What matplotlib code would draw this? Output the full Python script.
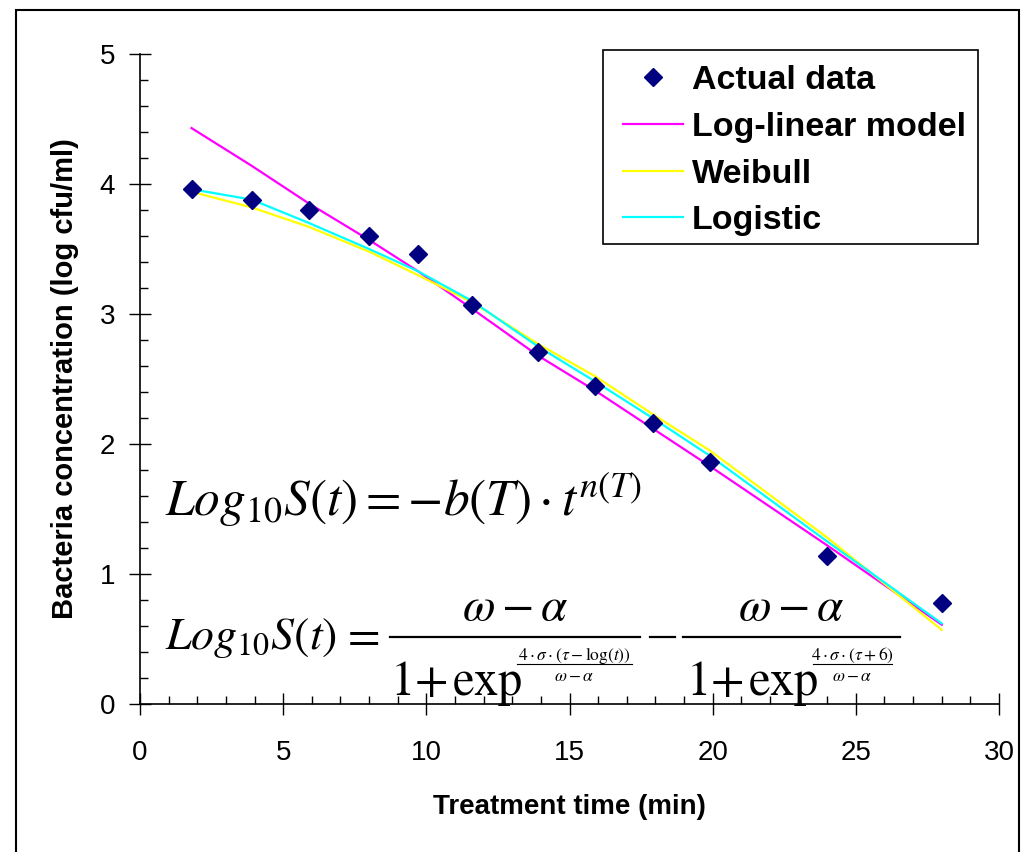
import matplotlib
matplotlib.use("Agg")
import matplotlib.pyplot as plt
from matplotlib.lines import Line2D
from matplotlib.patches import Rectangle
from matplotlib.ticker import MultipleLocator

plt.rcParams['font.family'] = ['Liberation Sans', 'DejaVu Sans']
plt.rcParams['mathtext.fontset'] = 'stix'

# treatment time (min) and measured / fitted log counts
time_min = [1.8, 3.9, 5.9, 8.0, 9.7, 11.6, 13.9, 15.9, 17.9, 19.9, 24.0, 28.0]
actual = [3.96, 3.88, 3.80, 3.60, 3.46, 3.07, 2.71, 2.45, 2.16, 1.86, 1.14, 0.78]
log_linear = [4.43, 4.14, 3.85, 3.57, 3.33, 3.04, 2.68, 2.41, 2.12, 1.83, 1.22, 0.61]
weibull = [3.94, 3.82, 3.67, 3.48, 3.30, 3.09, 2.77, 2.52, 2.23, 1.95, 1.28, 0.57]
logistic = [3.96, 3.88, 3.70, 3.50, 3.33, 3.10, 2.75, 2.48, 2.20, 1.91, 1.25, 0.62]

W, H = 1023, 852
fig = plt.figure(figsize=(W / 100, H / 100), dpi=100)
fig.patch.set_facecolor('white')


def fx(px):
    return px / W


def fy(py):
    return 1 - py / H


# outer frame (bottom runs off the picture)
fig.patches.append(Rectangle((fx(16), -0.05), fx(1019 - 16), fy(10) + 0.05,
                             transform=fig.transFigure, fill=False,
                             edgecolor='black', linewidth=1.5, clip_on=False))

ax = fig.add_axes([fx(140), fy(704), fx(999 - 140), (704 - 54) / H])
ax.set_xlim(0, 30)
ax.set_ylim(0, 5)

ax.plot(time_min, log_linear, color='#FF00FF', lw=1.6, label='Log-linear model', zorder=2)
ax.plot(time_min, weibull, color='#FFFF00', lw=1.6, label='Weibull', zorder=3)
ax.plot(time_min, logistic, color='#00FFFF', lw=1.6, label='Logistic', zorder=4)
ax.plot(time_min, actual, 'D', color='#000080', markersize=9, ls='none',
        label='Actual data', zorder=5)

for s in ['top', 'right']:
    ax.spines[s].set_visible(False)
for s in ['left', 'bottom']:
    ax.spines[s].set_linewidth(1.2)

ax.xaxis.set_major_locator(MultipleLocator(5))
ax.xaxis.set_minor_locator(MultipleLocator(1))
ax.yaxis.set_major_locator(MultipleLocator(1))
ax.yaxis.set_minor_locator(MultipleLocator(0.2))
ax.tick_params(which='major', direction='inout', length=16, width=1, labelsize=20)
ax.tick_params(which='minor', direction='in', length=6, width=1)
ax.tick_params(axis='y', which='major', pad=10)
ax.tick_params(axis='x', which='major', pad=18)

ax.set_xlabel('Treatment time (min)', fontsize=20, fontweight='bold', labelpad=20)
ax.set_ylabel('Bacteria concentration (log cfu/ml)', fontsize=21, fontweight='bold',
              labelpad=15)

# legend: frame drawn by hand so the padding matches
handles, labels = ax.get_legend_handles_labels()
order = [3, 0, 1, 2]
leg = ax.legend([handles[i] for i in order], [labels[i] for i in order],
                loc='upper left', bbox_to_anchor=(fx(613), fy(55)),
                bbox_transform=fig.transFigure,
                prop={'size': 24.5, 'weight': 'bold'}, frameon=False,
                handlelength=1.75, handletextpad=0.27,
                labelspacing=0.46, borderpad=0.3, borderaxespad=0)
fig.patches.append(Rectangle((fx(603), fy(244)), fx(978 - 603), (244 - 50) / H,
                             transform=fig.transFigure, fill=False,
                             edgecolor='black', linewidth=1.2))

# model equations
fig.text(fx(165), fy(516), r'$Log_{10}S(t)=-b(T)\cdot t^{n(T)}$',
         fontsize=37, ha='left', va='baseline')

big = 35
small = 12.5
fig.text(fx(165), fy(649), r'$Log_{10}S(t)$', fontsize=33, ha='left', va='baseline')
fig.text(fx(360), fy(649), r'$=$', fontsize=34, ha='center', va='baseline')

fracs = [
    # bar x0, bar x1, denominator left, exponent numerator, exponent bar x0, x1
    (390, 640, 390, r'$4\cdot\sigma\cdot(\tau-\log(t))$', 517, 632),
    (683, 900, 686, r'$4\cdot\sigma\cdot(\tau+6)$', 813, 892),
]
for x0, x1, dleft, expnum, e0, e1 in fracs:
    fig.add_artist(Line2D([fx(x0), fx(x1)], [fy(637), fy(637)], color='black', lw=1.6,
                          transform=fig.transFigure))
    fig.text(fx((x0 + x1) / 2), fy(620), r'$\omega-\alpha$', fontsize=34,
             ha='center', va='baseline')
    # 1 + exp, placed piece by piece to keep it tight
    fig.text(fx(dleft), fy(695), r'$1$', fontsize=big, ha='left', va='baseline')
    fig.text(fx(dleft + 41), fy(695), r'$+$', fontsize=big, ha='center', va='baseline')
    fig.text(fx(dleft + 62), fy(695), r'$\mathrm{exp}$', fontsize=big,
             ha='left', va='baseline')
    fig.add_artist(Line2D([fx(e0), fx(e1)], [fy(664), fy(664)], color='black', lw=0.8,
                          transform=fig.transFigure))
    fig.text(fx((e0 + e1) / 2), fy(660), expnum, fontsize=small,
             ha='center', va='baseline')
    fig.text(fx((e0 + e1) / 2), fy(681), r'$\omega-\alpha$', fontsize=small,
             ha='center', va='baseline')

# minus sign between the two fractions
fig.add_artist(Line2D([fx(650), fx(675)], [fy(637), fy(637)], color='black', lw=1.6,
                      transform=fig.transFigure))

fig.savefig('out.png', dpi=100, facecolor='white')
